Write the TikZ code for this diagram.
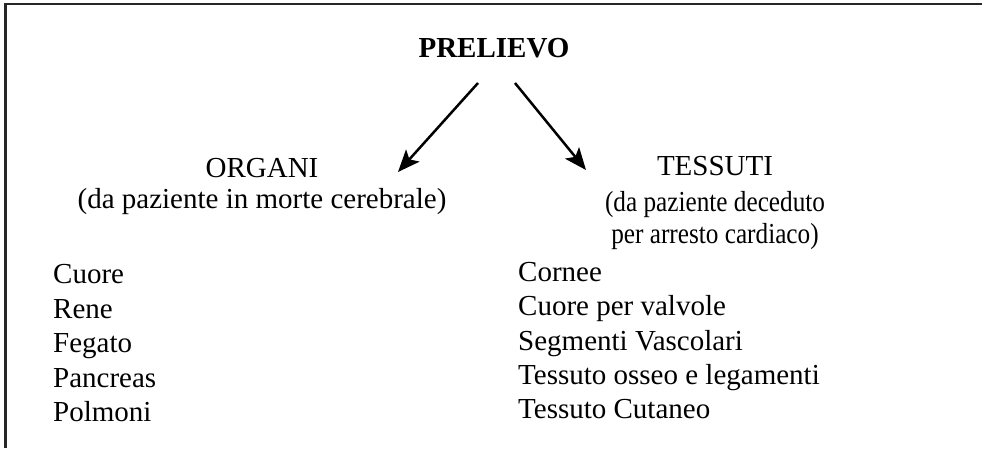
\documentclass[tikz,border=0pt]{standalone}
\usepackage{fontspec}
\setmainfont{Liberation Serif}
\newfontfamily\condfont[FakeStretch=0.87]{Liberation Serif}
\usetikzlibrary{arrows.meta}
\tikzset{
  txt/.style={anchor=base, inner sep=0pt, font=\fontsize{29}{35}\selectfont},
  cond/.style={anchor=base, inner sep=0pt, font=\condfont\fontsize{29}{35}\selectfont},
  ttl/.style={anchor=base, inner sep=0pt, font=\fontsize{29}{35}\selectfont\bfseries},
  lst/.style={anchor=base west, inner sep=0pt, font=\fontsize{29}{35}\selectfont},
  frame/.style={line width=2.4pt, draw=black!85},
  arr/.style={line width=2.5pt, -{Stealth[length=22pt, width=18pt, inset=5pt]}}
}
\begin{document}
\begin{tikzpicture}[x=1pt, y=-1pt]
\useasboundingbox (0,0) rectangle (982,448);
\draw[frame] (5.3,448) -- (5.3,4.2) -- (982,4.2);
\node[ttl] (prel) at (494,57) {PRELIEVO};
\node[txt] (org) at (262,177) {ORGANI};
\node[txt] (orgs) at (262,208) {(da paziente in morte cerebrale)};
\node[txt] (tes) at (715,175) {TESSUTI};
\node[cond] (tess1) at (715,211) {(da paziente deceduto};
\node[cond] (tess2) at (715,243) {per arresto cardiaco)};
\coordinate (a1s) at (478,83);
\coordinate (a1e) at (398,172);
\coordinate (a2s) at (515,83);
\coordinate (a2e) at (586,170);
\draw[arr] (a1s) -- (a1e);
\draw[arr] (a2s) -- (a2e);
\node[lst] (l1) at (53,283) {Cuore};
\node[lst] (l2) at (53,318) {Rene};
\node[lst] (l3) at (53,352) {Fegato};
\node[lst] (l4) at (53,387) {Pancreas};
\node[lst] (l5) at (53,421) {Polmoni};
\node[lst] (r1) at (518,281) {Cornee};
\node[lst] (r2) at (518,315) {Cuore per valvole};
\node[lst] (r3) at (518,350) {Segmenti Vascolari};
\node[lst] (r4) at (518,384) {Tessuto osseo e legamenti};
\node[lst] (r5) at (518,418) {Tessuto Cutaneo};
\end{tikzpicture}
\end{document}
